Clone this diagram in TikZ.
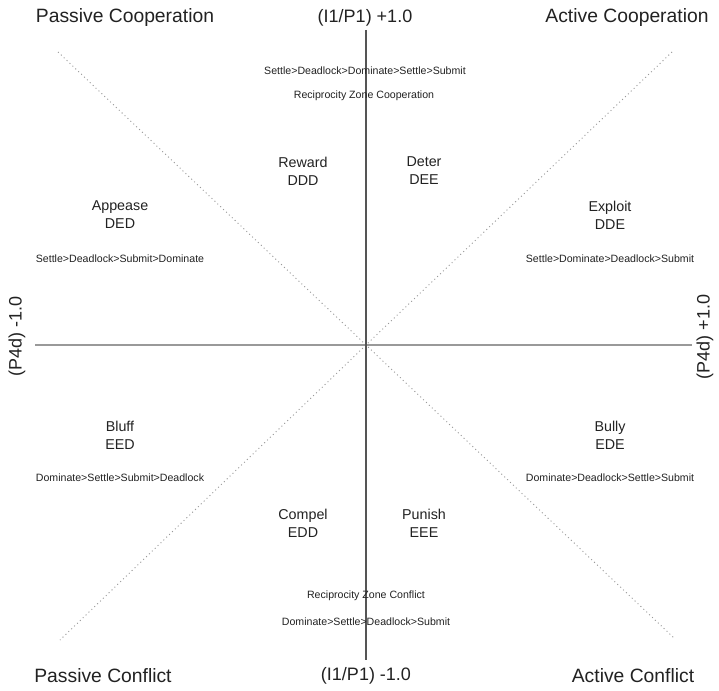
\documentclass[tikz,border=0pt]{standalone}
\usepackage{fontspec}
\setmainfont{Liberation Sans}
\definecolor{txt}{HTML}{222222}
\definecolor{axisv}{HTML}{555555}
\definecolor{axish}{HTML}{999999}
\definecolor{diag}{HTML}{999999}
\tikzset{
  big/.style={font=\fontsize{19.3}{22}\selectfont, text=txt, inner sep=0pt},
  axlab/.style={font=\fontsize{18}{22}\selectfont, text=txt, inner sep=0pt},
  strat/.style={font=\fontsize{14.3}{18}\selectfont, text=txt, align=center, inner sep=0pt},
  pref/.style={font=\fontsize{10.6}{12}\selectfont, text=txt, inner sep=0pt},
  dotline/.style={draw=diag, line width=0.9pt, dash pattern=on 1pt off 3pt},
}
\begin{document}
\begin{tikzpicture}[x=1pt,y=-1pt]
\useasboundingbox (0,0) rectangle (719,690);
\fill[white] (0,0) rectangle (719,690);
% coordinates for line ends
\coordinate (c) at (366,345);
\coordinate (tl) at (58,52);
\coordinate (tr) at (672,52);
\coordinate (bl) at (60,640);
\coordinate (br) at (674,638);
\coordinate (vt) at (366,30);
\coordinate (vb) at (366,660);
\coordinate (hl) at (35,345);
\coordinate (hr) at (692,345);
% diagonals
\draw[dotline] (tl) -- (c) -- (br);
\draw[dotline] (tr) -- (c) -- (bl);
% axes
\draw[axish, line width=1.6pt] (hl) -- (hr);
\draw[axisv, line width=1.1pt] (vt) -- (vb);
% corner labels
\node[big] (pc) at (125,18) {Passive Cooperation};
\node[big] (ac) at (627,18) {Active Cooperation};
\node[big] (pf) at (103,676) {Passive Conflict};
\node[big] (af) at (633,676) {Active Conflict};
\node[axlab] (ytop) at (365,18) {(I1/P1) +1.0};
\node[axlab] (ybot) at (366,676) {(I1/P1) -1.0};
\node[axlab, rotate=90] (xl) at (17,336) {(P4d) -1.0};
\node[axlab, rotate=90] (xr) at (705,337) {(P4d) +1.0};
% top zone
\node[pref] (ptop) at (365,71) {Settle>Deadlock>Dominate>Settle>Submit};
\node[pref] (rzc) at (364,96) {Reciprocity Zone Cooperation};
% strategies
\node[strat] (reward) at (303,171) {Reward\\DDD};
\node[strat] (deter) at (424,171) {Deter\\DEE};
\node[strat] (appease) at (120,215) {Appease\\DED};
\node[pref] (papp) at (120,259) {Settle>Deadlock>Submit>Dominate};
\node[strat] (exploit) at (610,215) {Exploit\\DDE};
\node[pref] (pexp) at (610,259) {Settle>Dominate>Deadlock>Submit};
\node[strat] (bluff) at (120,435) {Bluff\\EED};
\node[pref] (pblu) at (120,478) {Dominate>Settle>Submit>Deadlock};
\node[strat] (bully) at (610,435) {Bully\\EDE};
\node[pref] (pbul) at (610,478) {Dominate>Deadlock>Settle>Submit};
\node[strat] (compel) at (303,523) {Compel\\EDD};
\node[strat] (punish) at (424,523) {Punish\\EEE};
% bottom zone
\node[pref] (rzf) at (366,596) {Reciprocity Zone Conflict};
\node[pref] (pbot) at (366,622) {Dominate>Settle>Deadlock>Submit};
\end{tikzpicture}
\end{document}
